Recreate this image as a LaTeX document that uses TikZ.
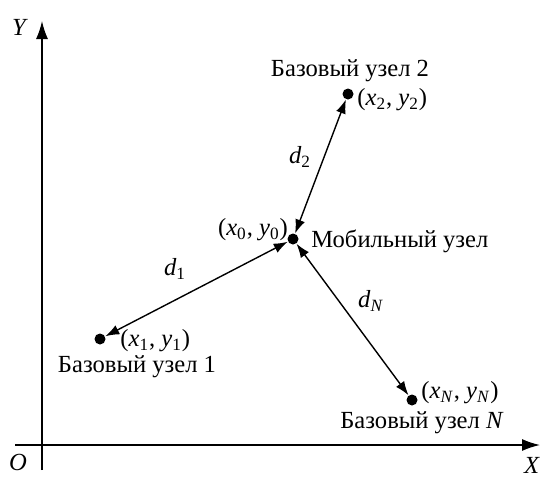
\documentclass[tikz,border=0pt]{standalone}
\usepackage{fontspec}
\setmainfont{Liberation Serif}
\usepackage{tikz}
\usetikzlibrary{positioning, arrows.meta}
\newcommand{\xylab}[2]{(\textit{x}\textsubscript{#1}, \textit{y}\textsubscript{#2})}
\tikzset{
  nodedot/.style={circle, fill=black, inner sep=0pt, minimum size=5.5pt},
  lab/.style={inner sep=1pt, font=\fontsize{12.3}{14}\selectfont},
  axis/.style={line width=0.75pt, -{Latex[length=9pt,width=6pt]}},
  dist/.style={line width=0.7pt, {Latex[length=7pt,width=5pt]}-{Latex[length=7pt,width=5pt]}},
}
\begin{document}
\begin{tikzpicture}[x=0.5pt, y=-0.5pt]
    \useasboundingbox (0,0) rectangle (541,477);

    % axes
    \coordinate (xstart) at (15,445);
    \coordinate (xend) at (540,445);
    \coordinate (ystart) at (42,470);
    \coordinate (yend) at (42,21);
    \draw[axis] (xstart) -- (xend);
    \draw[axis] (ystart) -- (yend);
    \node[lab] (xlab) at (532,465) {\textit{X}};
    \node[lab] (ylab) at (20,27) {\textit{Y}};
    \node[lab] (olab) at (18,462) {\textit{O}};

    % nodes
    \node[nodedot] (mob) at (293,239) {};
    \node[nodedot] (base1) at (100,339) {};
    \node[nodedot] (base2) at (348,94) {};
    \node[nodedot] (baseN) at (412,400) {};

    % distances
    \draw[dist] (mob) -- (base1);
    \draw[dist] (mob) -- (base2);
    \draw[dist] (mob) -- (baseN);

    % labels
    \node[lab] (mobxy) at (253,230) {\xylab{0}{0}};
    \node[lab, anchor=west] (moblab) at (309,241) {Мобильный узел};
    \node[lab] (b2lab) at (350,71) {Базовый узел 2};
    \node[lab, anchor=west] (b2xy) at (355,100) {\xylab{2}{2}};
    \node[lab, anchor=west] (b1xy) at (118,341) {\xylab{1}{1}};
    \node[lab] (b1lab) at (137,367) {Базовый узел 1};
    \node[lab, anchor=west] (bNxy) at (419,393) {\xylab{\textit{N}}{\textit{N}}};
    \node[lab] (bNlab) at (422,423) {Базовый узел \textit{N}};
    \node[lab] (d1) at (175,269) {\textit{d}\textsubscript{1}};
    \node[lab] (d2) at (300,157) {\textit{d}\textsubscript{2}};
    \node[lab] (dN) at (371,301) {\textit{d}\textsubscript{\textit{N}}};
\end{tikzpicture}
\end{document}
